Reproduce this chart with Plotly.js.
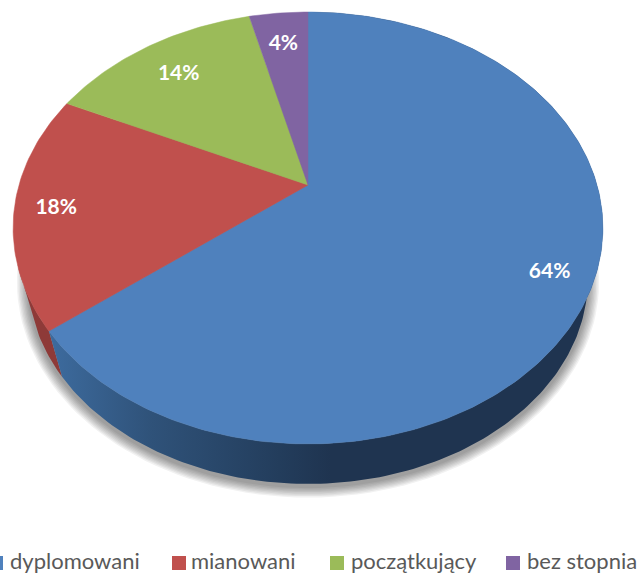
<!DOCTYPE html>
<html>
<head>
<meta charset="utf-8">
<script src="https://cdn.plot.ly/plotly-3.0.1.min.js"></script>
<style>html,body{margin:0;padding:0;background:#fff}#chart{width:638px;height:574px}</style>
</head>
<body>
<div id="chart"></div>
<script>
// ---- data ----
const categories = ['dyplomowani', 'mianowani', 'początkujący', 'bez stopnia'];
const values = [64.4, 17.6, 14.1, 3.9];

// ---- styling ----
const colors = ['#4f81bd', '#c0504d', '#9bbb59', '#8064a2'];
const labelReach = [0.86, 0.86, 0.79, 0.81];
const legendSquareX = [-11, 172, 330, 506];
const legendTextX = [9, 190, 350, 526];
const FONT = 'Lato, Carlito, sans-serif';

// ---- perspective of the pie disc, in the page's axis units ----
const CX = 308, APEX = 185, K = 0.199, DX = 289, DY = 207.4;
const TOPCY = 228, TOPA = 295, TOPB = 216, LOWCY = 279, LOWA = 280, LOWB = 205;

function upperPt(frac, r) {
  r = r === undefined ? 1 : r;
  const th = frac * 2 * Math.PI, u = r * Math.sin(th), v = r * Math.cos(th), w = 1 + K * v;
  return [CX + DX * u / w, APEX - DY * v / w];
}
function lowerPt(frac) {
  const p = upperPt(frac);
  return [CX + (p[0] - CX) * LOWA / TOPA, LOWCY + (p[1] - TOPCY) * LOWB / TOPB];
}
function steps(a, b) {
  const n = Math.max(2, Math.ceil((b - a) * 360)), out = [];
  for (let i = 0; i <= n; i++) out.push(a + (b - a) * i / n);
  return out;
}

const total = values.reduce((s, v) => s + v, 0);
let acc = 0;
const spans = values.map(v => { const s = [acc / total, (acc + v) / total]; acc += v; return s; });

const traces = [];
const base = {type: 'scatter', mode: 'lines', hoverinfo: 'skip', showlegend: false, line: {width: 0}};

// soft shadow under the disc
for (let i = 8; i >= 1; i--) {
  const xs = [], ys = [];
  for (let f = 0; f <= 1.0001; f += 1 / 180) {
    const p = lowerPt(f);
    xs.push(CX + (p[0] - CX) * (1 + i * 0.005));
    ys.push(LOWCY + 3 + (p[1] - LOWCY) * (1 + i * 0.0065));
  }
  traces.push(Object.assign({}, base, {x: xs, y: ys, fill: 'toself', fillcolor: 'rgba(0,0,0,0.055)'}));
}

function wall(a, b, style) {
  const fr = steps(a, b);
  const pts = fr.map(f => upperPt(f)).concat(fr.slice().reverse().map(lowerPt));
  return Object.assign({}, base, style, {x: pts.map(p => p[0]), y: pts.map(p => p[1])});
}
// side wall (only the front part is visible); red sits under blue
traces.push(wall(spans[1][0], spans[1][0] + 0.05, {fill: 'toself', fillcolor: '#8e3a38'}));
traces.push(wall(spans[0][0], spans[0][1], {fill: 'toself', fillcolor: '#1f3550', fillgradient: {type: 'horizontal',
  colorscale: [[0, '#3d6b9e'], [0.2, '#2f5279'], [0.45, '#233d5c'], [0.55, '#1f3450'], [1, '#1f3450']],
  start: 50, stop: 560}}));

// top face
values.forEach((v, i) => {
  const pts = [[CX, APEX]].concat(steps(spans[i][0], spans[i][1]).map(f => upperPt(f)));
  pts.push([CX, APEX]);
  traces.push(Object.assign({}, base, {
    name: categories[i], x: pts.map(p => p[0]), y: pts.map(p => p[1]),
    fill: 'toself', fillcolor: colors[i], line: {width: 0.5, color: colors[i]}
  }));
});

// percentage labels
const lab = values.map((v, i) => upperPt((spans[i][0] + spans[i][1]) / 2, labelReach[i]));
traces.push({
  type: 'scatter', mode: 'text', hoverinfo: 'skip', showlegend: false, cliponaxis: false,
  x: lab.map(p => p[0]), y: lab.map(p => p[1] + 3),
  text: values.map(v => Math.round(v / total * 100) + '%'),
  textposition: 'middle center',
  textfont: {family: FONT, size: 21, color: '#ffffff', weight: 700}
});

// legend, laid out to the original's spacing
const shapes = categories.map((c, i) => ({
  type: 'rect', xref: 'x', yref: 'y', x0: legendSquareX[i], x1: legendSquareX[i] + 14, y0: 556, y1: 570,
  fillcolor: colors[i], line: {width: 0}
}));
const annotations = categories.map((c, i) => ({
  text: c, xref: 'x', yref: 'y', x: legendTextX[i], y: 560, xanchor: 'left', yanchor: 'middle',
  showarrow: false, align: 'left', borderpad: 0, font: {family: FONT, size: 22, color: '#595959'}
}));

Plotly.newPlot('chart', traces, {
  width: 638, height: 574, margin: {l: 0, r: 0, t: 0, b: 0},
  paper_bgcolor: '#ffffff', plot_bgcolor: '#ffffff', showlegend: false,
  xaxis: {range: [0, 638], visible: false, fixedrange: true},
  yaxis: {range: [574, 0], visible: false, fixedrange: true},
  shapes: shapes, annotations: annotations
}, {displayModeBar: false, staticPlot: true});
</script>
</body>
</html>
